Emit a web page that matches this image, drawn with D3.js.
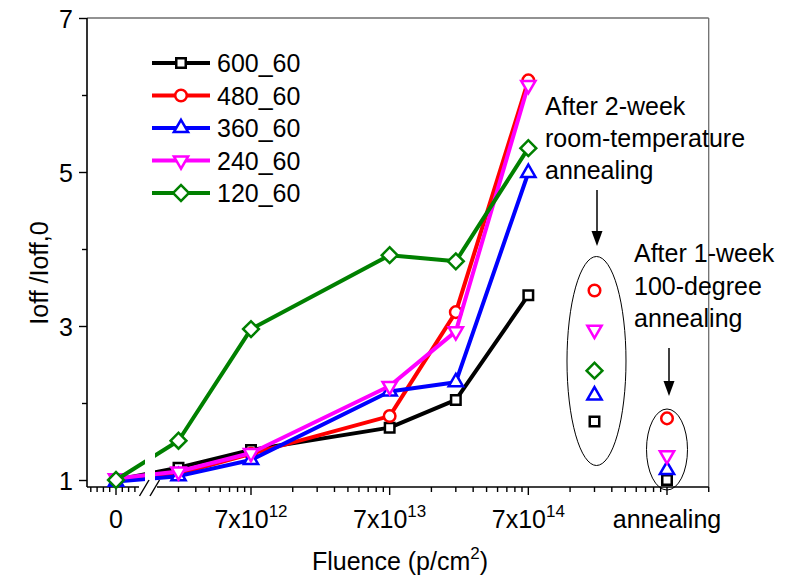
<!DOCTYPE html>
<html>
<head>
<meta charset="utf-8">
<script src="https://cdn.jsdelivr.net/npm/d3@7.9.0/dist/d3.min.js"></script>
<style>
  body { margin: 0; background: #fff; }
  svg text { font-family: "Liberation Sans", Arial, sans-serif; fill: #000; }
</style>
</head>
<body>
<div id="chart"></div>
<script>
// fluence positions of the irradiation steps (0 is drawn on the linear stub left of the break)
const fluence = [0, 2.1e12, 7e12, 7e13, 2.1e14, 7e14];
const rtAnnealPos = 2.1e15;   // "After 2-week room-temperature annealing" column
const hotAnnealPos = 7e15;    // "annealing" column

const seriesNames = ["600_60", "480_60", "360_60", "240_60", "120_60"];
const seriesColors = ["#000000", "#ff0000", "#0000ff", "#ff00ff", "#008000"];
const seriesSymbols = ["square", "circle", "triangleUp", "triangleDown", "diamond"];

const s600 = [1.00, 1.16, 1.39, 1.68, 2.04, 3.40];
const s480 = [1.00, 1.08, 1.34, 1.83, 3.18, 6.19];
const s360 = [0.98, 1.05, 1.26, 2.15, 2.27, 4.99];
const s240 = [1.02, 1.11, 1.35, 2.22, 2.93, 6.13];
const s120 = [1.00, 1.51, 2.96, 3.92, 3.84, 5.31];
const seriesValues = [s600, s480, s360, s240, s120];

// after-annealing values, same series order
const rtAnneal = [1.76, 3.46, 2.10, 2.95, 2.42];
const hotAnneal = [1.00, 1.80, 1.13, 1.32, null];

const yMajorTicks = [1, 3, 5, 7];
const yMinorTicks = [2, 4, 6];
const xMajorTicks = [7e12, 7e13, 7e14, 7e15];
const xMajorLabels = [["7x10", "12"], ["7x10", "13"], ["7x10", "14"], ["annealing", null]];

const W = 796, H = 580;
const frame = { left: 87, right: 708.7, top: 18, bottom: 487 };
const breakGap = [145, 155];

const svg = d3.select("#chart").append("svg")
  .attr("width", W)
  .attr("height", H);

// scales
const y = d3.scaleLinear().domain([1, 7]).range([480, 18]);
const xLog = d3.scaleLog().domain([7e12, 7e15]).range([251, 667]);
const xLin = d3.scaleLinear().domain([0, 1e11]).range([116, 122.3]);
const x = v => v <= 4e11 ? xLin(v) : xLog(v);

// minor ticks
const xLinMinor = [-4e11, -3e11, -2e11, -1e11, 1e11, 2e11, 3e11];
const xLogMinor = [];
[7e11, 7e12, 7e13, 7e14, 7e15].forEach(base => {
  d3.range(2, 10).forEach(k => {
    const px = xLog(base * k);
    if (px > breakGap[1] && px <= frame.right + 1) xLogMinor.push(base * k);
  });
});

const font = 25;
const supFont = 17;

// frame
svg.append("line")
  .attr("x1", frame.left).attr("x2", frame.right)
  .attr("y1", frame.top).attr("y2", frame.top)
  .attr("stroke", "#6e6e6e").attr("stroke-width", 1.3);
svg.append("line")
  .attr("x1", frame.right).attr("x2", frame.right)
  .attr("y1", frame.top).attr("y2", frame.bottom)
  .attr("stroke", "#6e6e6e").attr("stroke-width", 1.3);
svg.append("line")
  .attr("x1", frame.left).attr("x2", frame.left)
  .attr("y1", frame.top).attr("y2", frame.bottom)
  .attr("stroke", "#000").attr("stroke-width", 1.6);
svg.append("line")
  .attr("x1", frame.left).attr("x2", 139)
  .attr("y1", frame.bottom).attr("y2", frame.bottom)
  .attr("stroke", "#000").attr("stroke-width", 1.6);
svg.append("line")
  .attr("x1", 157).attr("x2", frame.right)
  .attr("y1", frame.bottom).attr("y2", frame.bottom)
  .attr("stroke", "#000").attr("stroke-width", 1.6);

// axis break marks
svg.selectAll("line.break-mark")
  .data([139.5, 150])
  .join("line")
    .attr("class", "break-mark")
    .attr("x1", d => d).attr("y1", 496)
    .attr("x2", d => d + 9.5).attr("y2", 480)
    .attr("stroke", "#000").attr("stroke-width", 1.4);

// y axis
const yAxisMajor = svg.append("g")
  .attr("transform", `translate(${frame.left},0)`)
  .call(d3.axisLeft(y).tickValues(yMajorTicks).tickSize(8).tickPadding(6).tickFormat(d3.format("d")));
const yAxisMinor = svg.append("g")
  .attr("transform", `translate(${frame.left},0)`)
  .call(d3.axisLeft(y).tickValues(yMinorTicks).tickSize(5).tickFormat(""));
[yAxisMajor, yAxisMinor].forEach(g => {
  g.select(".domain").remove();
  g.selectAll(".tick line").attr("stroke", "#000").attr("stroke-width", 1.4);
});
yAxisMajor.selectAll(".tick text")
  .attr("font-size", font)
  .attr("dy", "0.36em")
  .style("font-family", "'Liberation Sans', Arial, sans-serif");

// x axis ticks
const xTicksG = svg.append("g").attr("transform", `translate(0,${frame.bottom})`);
xTicksG.selectAll("line.xmaj")
  .data([0, ...xMajorTicks])
  .join("line")
    .attr("class", "xmaj")
    .attr("x1", d => x(d)).attr("x2", d => x(d))
    .attr("y1", 0).attr("y2", 8)
    .attr("stroke", "#000").attr("stroke-width", 1.4);
xTicksG.selectAll("line.xmin")
  .data([...xLinMinor, ...xLogMinor])
  .join("line")
    .attr("class", "xmin")
    .attr("x1", d => x(d)).attr("x2", d => x(d))
    .attr("y1", 0).attr("y2", 5)
    .attr("stroke", "#000").attr("stroke-width", 1.4);

const xLabels = [{ v: 0, main: "0", sup: null }]
  .concat(xMajorTicks.map((v, i) => ({ v, main: xMajorLabels[i][0], sup: xMajorLabels[i][1] })));
xTicksG.selectAll("text.xlab")
  .data(xLabels)
  .join("text")
    .attr("class", "xlab")
    .attr("x", d => x(d.v))
    .attr("y", 41)
    .attr("text-anchor", "middle")
    .attr("font-size", font)
    .each(function (d) {
      const t = d3.select(this);
      t.append("tspan").text(d.main);
      if (d.sup) {
        t.append("tspan").attr("font-size", supFont).attr("dy", -11).text(d.sup);
      }
    });

// axis titles
const xTitle = svg.append("text")
  .attr("x", 400)
  .attr("y", 570)
  .attr("text-anchor", "middle")
  .attr("font-size", font);
xTitle.append("tspan").text("Fluence (p/cm");
xTitle.append("tspan").attr("font-size", supFont).attr("dy", -11).text("2");
xTitle.append("tspan").attr("dy", 11).text(")");

svg.append("text")
  .attr("transform", "translate(48,273) rotate(-90)")
  .attr("text-anchor", "middle")
  .attr("font-size", font)
  .text("Ioff /Ioff,0");

// symbols
const symbolPath = {
  square: d3.symbol(d3.symbolSquare, 90)(),
  circle: d3.symbol(d3.symbolCircle, 105)(),
  triangleUp: d3.symbol(d3.symbolTriangle, 88)(),
  triangleDown: d3.symbol(d3.symbolTriangle, 88)(),
  diamond: d3.symbol(d3.symbolSquare, 125)()
};
const symbolRotate = { square: 0, circle: 0, triangleUp: 0, triangleDown: 180, diamond: 45 };

function drawSymbol(g, kind, cx, cy, color) {
  g.append("path")
    .attr("d", symbolPath[kind])
    .attr("transform", `translate(${cx},${cy}) rotate(${symbolRotate[kind]})`)
    .attr("fill", "#fff")
    .attr("stroke", color)
    .attr("stroke-width", 2.5);
}

// clip for the axis break
const defs = svg.append("defs");
const clip = defs.append("clipPath").attr("id", "break-clip");
clip.append("rect").attr("x", 0).attr("y", 0).attr("width", breakGap[0]).attr("height", H);
clip.append("rect").attr("x", breakGap[1]).attr("y", 0).attr("width", W - breakGap[1]).attr("height", H);

const plot = svg.append("g").attr("clip-path", "url(#break-clip)");
const line = d3.line().x(d => x(d[0])).y(d => y(d[1]));

seriesValues.forEach((vals, i) => {
  const pts = fluence.map((f, j) => [f, vals[j]]);
  const g = plot.append("g").attr("class", "series");
  g.append("path")
    .attr("d", line(pts))
    .attr("fill", "none")
    .attr("stroke", seriesColors[i])
    .attr("stroke-width", 4)
    .attr("stroke-linejoin", "round");
  pts.forEach(p => drawSymbol(g, seriesSymbols[i], x(p[0]), y(p[1]), seriesColors[i]));
});

// annealed points
const annealG = svg.append("g");
seriesNames.forEach((name, i) => {
  if (rtAnneal[i] != null) drawSymbol(annealG, seriesSymbols[i], x(rtAnnealPos), y(rtAnneal[i]), seriesColors[i]);
  if (hotAnneal[i] != null) drawSymbol(annealG, seriesSymbols[i], x(hotAnnealPos), y(hotAnneal[i]), seriesColors[i]);
});

// ellipses round the annealed groups
annealG.append("ellipse")
  .attr("cx", x(rtAnnealPos) + 2).attr("cy", 361)
  .attr("rx", 29.5).attr("ry", 104.5)
  .attr("fill", "none").attr("stroke", "#000").attr("stroke-width", 1);
annealG.append("ellipse")
  .attr("cx", x(hotAnnealPos)).attr("cy", 449.5)
  .attr("rx", 20.5).attr("ry", 40.5)
  .attr("fill", "none").attr("stroke", "#000").attr("stroke-width", 1);

// arrows
function arrow(xp, y1, y2) {
  svg.append("line")
    .attr("x1", xp).attr("x2", xp)
    .attr("y1", y1).attr("y2", y2 - 14)
    .attr("stroke", "#000").attr("stroke-width", 1.5);
  svg.append("path")
    .attr("d", `M${xp - 5.5},${y2 - 15} L${xp + 5.5},${y2 - 15} L${xp},${y2} Z`)
    .attr("fill", "#000");
}
arrow(597, 190, 246);
arrow(669, 348, 396);

// annotation texts
const note1 = ["After 2-week", "room-temperature", "annealing"];
const note2 = ["After 1-week", "100-degree", "annealing"];
svg.selectAll("text.note1")
  .data(note1)
  .join("text")
    .attr("class", "note1")
    .attr("x", 545)
    .attr("y", (d, i) => 115 + i * 32)
    .attr("font-size", font)
    .text(d => d);
svg.selectAll("text.note2")
  .data(note2)
  .join("text")
    .attr("class", "note2")
    .attr("x", 634)
    .attr("y", (d, i) => 262 + i * 32.5)
    .attr("font-size", font)
    .text(d => d);

// legend
const legend = svg.append("g").attr("transform", "translate(152,63)");
seriesNames.forEach((name, i) => {
  const row = legend.append("g").attr("transform", `translate(0,${i * 32.5})`);
  row.append("line")
    .attr("x1", 0).attr("x2", 58)
    .attr("y1", 0).attr("y2", 0)
    .attr("stroke", seriesColors[i])
    .attr("stroke-width", 4);
  drawSymbol(row, seriesSymbols[i], 29, 0, seriesColors[i]);
  row.append("text")
    .attr("x", 65)
    .attr("y", 0)
    .attr("dy", "0.36em")
    .attr("font-size", font)
    .text(name);
});
</script>
</body>
</html>
